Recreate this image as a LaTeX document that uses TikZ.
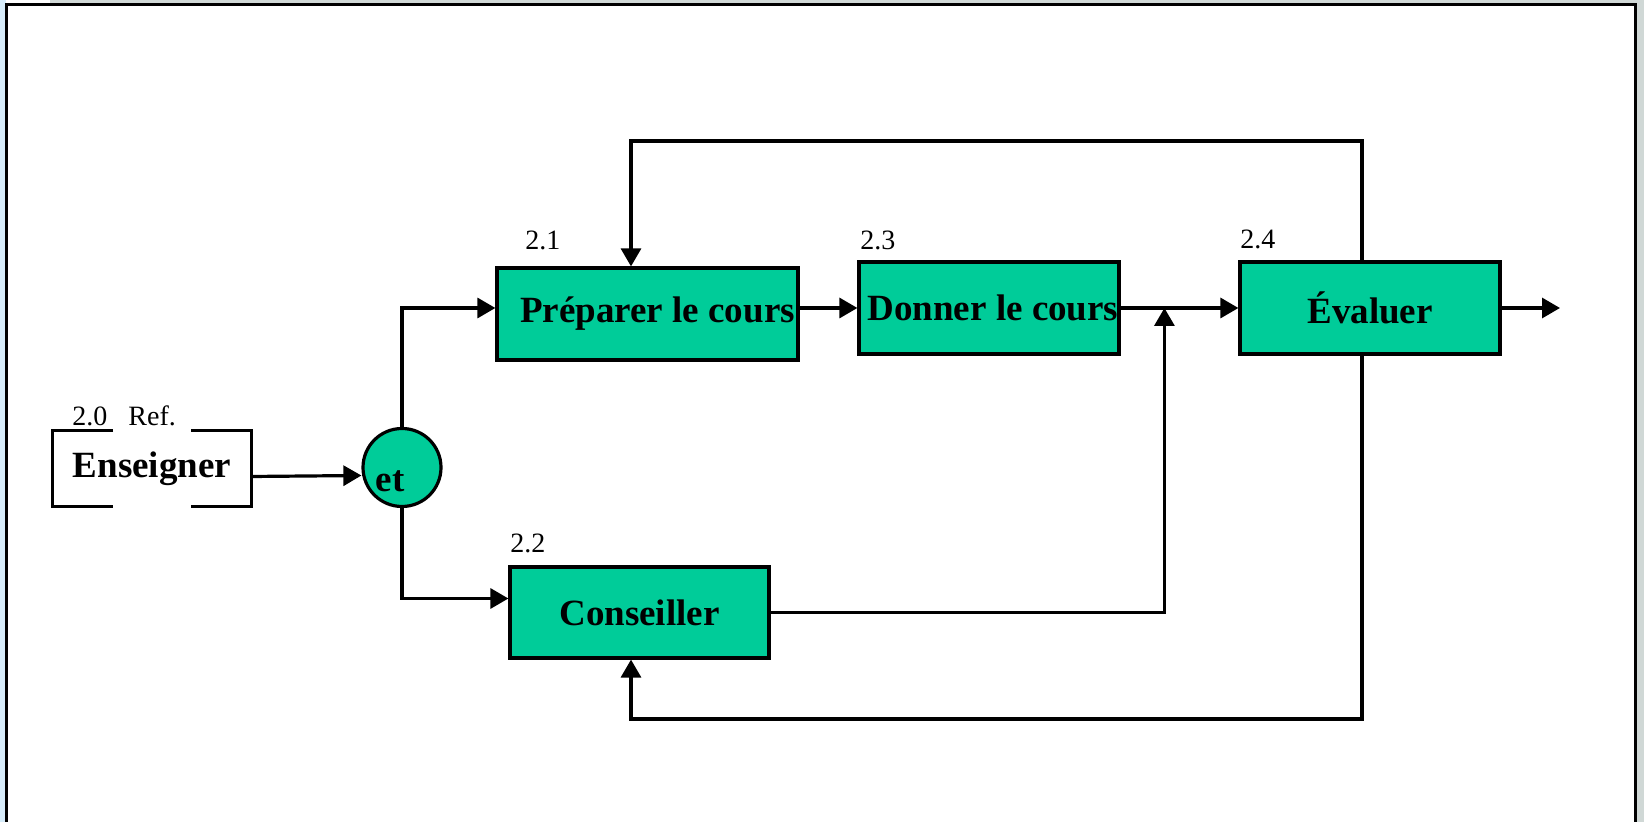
\documentclass[tikz,border=0pt]{standalone}
\usepackage{fontspec}
\setmainfont{Liberation Serif}
\usetikzlibrary{arrows.meta,positioning,calc}
\definecolor{vert}{RGB}{0,204,153}
\definecolor{bleuclair}{RGB}{214,236,250}
\definecolor{grisclair}{RGB}{208,216,214}
\tikzset{
  boite/.style={draw,fill=vert,line width=1.6pt,inner sep=0pt,font=\fontsize{18.5}{22}\selectfont\bfseries},
  num/.style={anchor=base west,inner sep=0pt,font=\fontsize{14}{17}\selectfont},
  fleche/.style={line width=1.6pt,-{Triangle[length=9pt,width=10pt]}},
  trait/.style={line width=1.6pt},
}
\begin{document}
\begin{tikzpicture}[x=0.5pt,y=-0.5pt]
  \useasboundingbox (0,0) rectangle (1644,822);
  % cadre
  \fill[bleuclair] (0,0) rectangle (6,822);
  \fill[grisclair] (50,0) rectangle (1644,3) (1637,0) rectangle (1644,822);
  \draw[line width=1.6pt] (6.5,822) -- (6.5,4.3) -- (1635.7,4.3) -- (1635.7,822);
  % boites
  \node[boite,minimum width=150.5pt,minimum height=46pt] (prep) at (647.5,314) {\hspace*{10pt}Préparer le cours};
  \node[boite,minimum width=130pt,minimum height=46pt] (donn) at (989,308) {\hspace*{4pt}Donner le cours};
  \node[boite,minimum width=130pt,minimum height=46pt] (eval) at (1370,308) {Évaluer};
  \node[boite,minimum width=129.5pt,minimum height=45.5pt] (cons) at (639.5,612.5) {Conseiller};
  \node[boite,circle,minimum size=39pt] (et) at (402,467.5) {};
  \node[font=\fontsize{18.5}{22}\selectfont\bfseries,inner sep=0pt] (ettxt) at ([xshift=-6pt,yshift=-7pt]et.center) {et};
  \node[minimum width=99pt,minimum height=37.5pt,inner sep=0pt,font=\fontsize{18.5}{22}\selectfont\bfseries] (ens) at (152,468.5) {Enseigner};
  \draw[trait] ([xshift=-19.5pt]ens.north) -- (ens.north west) -- (ens.south west) -- ([xshift=-19.5pt]ens.south);
  \draw[trait] ([xshift=19.5pt]ens.north) -- (ens.north east) -- (ens.south east) -- ([xshift=19.5pt]ens.south);
  % numeros
  \node[num] (n20) at (72,426) {2.0};
  \node[num] (ref) at (128,426) {Ref.};
  \node[num] (n21) at (525,250) {2.1};
  \node[num] (n22) at (510,553) {2.2};
  \node[num] (n23) at (860,250) {2.3};
  \node[num] (n24) at (1240,249) {2.4};
  % fleches
  \coordinate (jonction) at ($(donn.east)!0.372!(eval.west)$);
  \coordinate (sortie) at (1560,308);
  \coordinate (haut) at (631,141);
  \coordinate (bas) at (631,719);
  \draw[fleche] ([yshift=-4pt]ens.east) -- ([yshift=-4pt]et.west);
  \draw[fleche] (et.north) |- ([yshift=3pt]prep.west);
  \draw[fleche] (et.south) |- ([yshift=7pt]cons.west);
  \draw[fleche] ([yshift=3pt]prep.east) -- (donn.west);
  \draw[fleche] (donn.east) -- (eval.west);
  \draw[fleche] (eval.east) -- (sortie);
  \draw[fleche] (cons.east) -| (jonction);
  \draw[fleche] ([xshift=-4pt]eval.north) |- (haut) -- (haut |- prep.north);
  \draw[fleche] ([xshift=-4pt]eval.south) |- (bas) -- (bas |- cons.south);
\end{tikzpicture}
\end{document}
